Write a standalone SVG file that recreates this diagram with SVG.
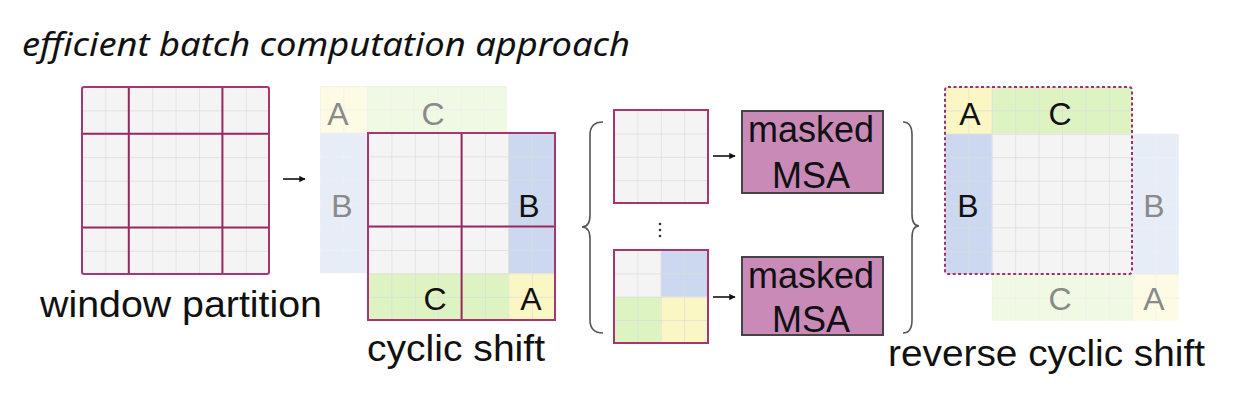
<svg xmlns="http://www.w3.org/2000/svg" width="1239" height="407" viewBox="0 0 1239 407">
<style>
.lbl{font-family:"Liberation Sans",Arial,sans-serif;fill:#111}
.big{font-size:36px}
.let{font-family:"Liberation Sans",Arial,sans-serif;font-size:32px;text-anchor:middle;fill:#111}
.fade{fill:#8a8a8a}
.gray{fill:#f4f4f4}
.yel{fill:#fbf7c4}
.grn{fill:#def3c2}
.blu{fill:#ccd8ef}
.bord{fill:none;stroke:#a8356f;stroke-width:2}
.thick{stroke:#98285f;stroke-width:2;fill:none}
.brace{fill:none;stroke:#555;stroke-width:1.6}
.arr{stroke:#111;stroke-width:1.6;fill:none}
.msa{fill:#c98ab8;stroke:#444;stroke-width:2}
</style>
<defs>
<pattern id="grid" patternUnits="userSpaceOnUse" width="23.4" height="23.4">
<path d="M0 0H23.4M0 0V23.4" stroke="#dcdcdc" stroke-width="1.4" fill="none"/>
</pattern>
<marker id="ah" viewBox="0 0 10 10" refX="9" refY="5" markerWidth="4" markerHeight="4" orient="auto">
<path d="M0 0L10 5L0 10z" fill="#111"/>
</marker>
</defs>

<text id="title" x="22" y="56" style="font-family:'Noto Sans','Open Sans',sans-serif;font-style:italic;font-size:32px;fill:#111" textLength="608" lengthAdjust="spacingAndGlyphs">efficient batch computation approach</text>

<g id="window-partition">
<g transform="translate(82,87)">
<rect width="187" height="187" class="gray"/>
<rect width="187" height="187" fill="url(#grid)"/>
<path class="thick" d="M46.8 0V187M140.4 0V187M0 46.8H187M0 140.4H187"/>
<rect width="187" height="187" rx="2" class="bord"/>
</g>
<text class="lbl big" x="40" y="317" textLength="282" lengthAdjust="spacingAndGlyphs">window partition</text>
</g>

<g id="cyclic-shift">
<g transform="translate(320,86)" opacity="0.45">
<rect x="0" y="0" width="46.8" height="46.8" class="yel"/>
<rect x="46.8" y="0" width="140.4" height="46.8" class="grn"/>
<rect x="0" y="46.8" width="46.8" height="140.4" class="blu"/>
<path d="M0 0H187V46.8H46.8V187H0z" fill="url(#grid)"/>
</g>
<text class="let fade" x="338" y="125">A</text>
<text class="let fade" x="433" y="125">C</text>
<text class="let fade" x="342" y="217">B</text>
<g transform="translate(368,133)">
<rect width="187" height="187" class="gray"/>
<rect x="140.4" y="0" width="46.6" height="140.4" class="blu"/>
<rect x="0" y="140.4" width="140.4" height="46.6" class="grn"/>
<rect x="140.4" y="140.4" width="46.6" height="46.6" class="yel"/>
<rect width="187" height="187" fill="url(#grid)"/>
<path class="thick" d="M93.6 0V187M0 93.6H187"/>
<rect width="187" height="187" class="bord"/>
</g>
<text class="let" x="529" y="217">B</text>
<text class="let" x="435" y="310">C</text>
<text class="let" x="531" y="310">A</text>
<text class="lbl big" x="367" y="361" textLength="178" lengthAdjust="spacingAndGlyphs">cyclic shift</text>
</g>

<g id="window-top">
<g transform="translate(614,110)">
<rect width="94" height="93" class="gray"/>
<rect width="94" height="93" fill="url(#grid)"/>
<rect width="94" height="93" class="bord" stroke-width="1.6"/>
</g>
</g>

<g id="window-bottom">
<g transform="translate(614,250)">
<rect width="94" height="93" class="gray"/>
<rect x="46.8" y="0" width="47.2" height="46.8" class="blu"/>
<rect x="0" y="46.8" width="46.8" height="46.2" class="grn"/>
<rect x="46.8" y="46.8" width="47.2" height="46.2" class="yel"/>
<rect width="94" height="93" fill="url(#grid)"/>
<rect width="94" height="93" class="bord" stroke-width="1.6"/>
</g>
</g>

<g id="msa-top">
<rect x="742" y="111" width="141" height="82" class="msa"/>
<text class="lbl" x="811" y="142" style="font-size:36px;text-anchor:middle">masked</text>
<text class="lbl" x="811" y="188" style="font-size:36px;text-anchor:middle">MSA</text>
</g>

<g id="msa-bottom">
<rect x="742" y="257" width="141" height="78" class="msa"/>
<text class="lbl" x="811" y="288" style="font-size:36px;text-anchor:middle">masked</text>
<text class="lbl" x="811" y="332" style="font-size:36px;text-anchor:middle">MSA</text>
</g>

<g id="dots" fill="#333">
<circle cx="660" cy="224" r="1.3"/>
<circle cx="660" cy="230" r="1.3"/>
<circle cx="660" cy="236" r="1.3"/>
</g>

<g id="reverse-cyclic-shift">
<g transform="translate(945,87)">
<g opacity="0.45">
<rect x="187" y="46.8" width="46.8" height="140.2" class="blu"/>
<rect x="46.8" y="187" width="140.2" height="46.8" class="grn"/>
<rect x="187" y="187" width="46.8" height="46.8" class="yel"/>
<path d="M187 46.8H233.8V233.8H46.8V187H187z" fill="url(#grid)"/>
</g>
<rect width="187" height="187" class="gray"/>
<rect x="0" y="0" width="46.8" height="46.8" class="yel"/>
<rect x="46.8" y="0" width="140.2" height="46.8" class="grn"/>
<rect x="0" y="46.8" width="46.8" height="140.2" class="blu"/>
<rect width="187" height="187" fill="url(#grid)"/>
<rect width="187" height="187" rx="3" fill="none" stroke="#a0306a" stroke-width="2" stroke-dasharray="3 2.5"/>
</g>
<text class="let" x="970" y="125">A</text>
<text class="let" x="1060" y="125">C</text>
<text class="let" x="968" y="217">B</text>
<text class="let fade" x="1154" y="217">B</text>
<text class="let fade" x="1060" y="310">C</text>
<text class="let fade" x="1154" y="310">A</text>
<text class="lbl big" x="888" y="366" textLength="317" lengthAdjust="spacingAndGlyphs">reverse cyclic shift</text>
</g>

<g id="connectors">
<path class="arr" d="M283 179H305" marker-end="url(#ah)"/>
<path class="arr" d="M713 156H735" marker-end="url(#ah)"/>
<path class="arr" d="M713 297H735" marker-end="url(#ah)"/>
<path class="brace" d="M603 122Q590 122 590 135V215Q590 227 582 227Q590 227 590 239V320Q590 333 603 333"/>
<path class="brace" d="M903 122Q912 122 912 135V214Q912 226 919 226Q912 226 912 238V320Q912 333 903 333"/>
</g>
</svg>
